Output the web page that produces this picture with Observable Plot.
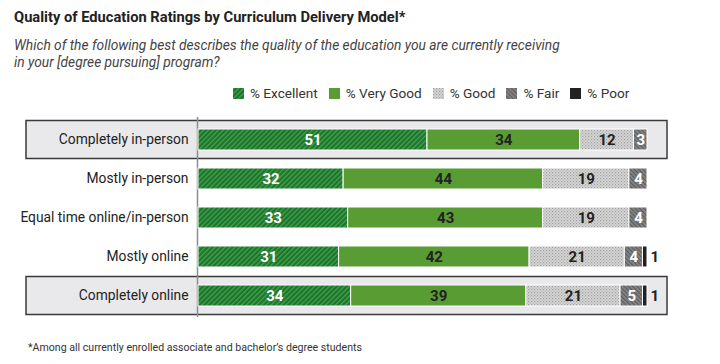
<!DOCTYPE html>
<html><head><meta charset="utf-8">
<script src="https://cdn.jsdelivr.net/npm/d3@7"></script>
<script src="https://cdn.jsdelivr.net/npm/@observablehq/plot@0.6"></script>
<style>
body{margin:0;width:720px;height:364px;position:relative;background:#fff;font-family:Roboto,"Liberation Sans",sans-serif;color:#222;overflow:hidden}
#title{position:absolute;left:14px;top:8px;font-size:14.7px;line-height:18px;font-weight:700;color:#222;white-space:nowrap}
#subtitle{position:absolute;left:14px;top:37px;font-size:13.75px;line-height:17px;font-style:italic;color:#444;white-space:nowrap}
#legend{position:absolute;left:233px;top:85px;display:flex;gap:11px;font-size:13.6px;line-height:16px;color:#333;white-space:nowrap}
#legend .item{display:flex;align-items:center;gap:6px}
#chart{position:absolute;left:0;top:100px}
#caption{position:absolute;left:28px;top:341px;font-size:10.6px;line-height:14px;color:#333;white-space:nowrap}
</style></head><body>
<svg width="0" height="0" style="position:absolute">
<defs>
<pattern id="pExc" width="3.5" height="3.5" patternUnits="userSpaceOnUse" patternTransform="rotate(45)">
<rect width="3.5" height="3.5" fill="#1b7530"/><rect width="1.3" height="3.5" fill="#46a046"/>
</pattern>
<pattern id="pVg" width="4" height="4" patternUnits="userSpaceOnUse"><rect width="4" height="4" fill="#589c33"/></pattern>
<pattern id="pGood" width="3" height="3" patternUnits="userSpaceOnUse">
<rect width="3" height="3" fill="#d6d6d6"/><rect x="0" y="0" width="1.2" height="1.2" fill="#a0a0a0"/><rect x="1.5" y="1.5" width="1.2" height="1.2" fill="#b0b0b0"/>
</pattern>
<pattern id="pFair" width="3" height="3" patternUnits="userSpaceOnUse" patternTransform="rotate(-45)">
<rect width="3" height="3" fill="#858585"/><rect width="1.2" height="3" fill="#5c5c5c"/>
</pattern>
<pattern id="pPoor" width="4" height="4" patternUnits="userSpaceOnUse"><rect width="4" height="4" fill="#222222"/></pattern>
</defs>
</svg>
<div id="title">Quality of Education Ratings by Curriculum Delivery Model*</div>
<div id="subtitle">Which of the following best describes the quality of the education you are currently receiving<br>in your [degree pursuing] program?</div>
<div id="legend"></div>
<div id="chart"></div>
<div id="caption">*Among all currently enrolled associate and bachelor’s degree students</div>
<script>
const models = ["Completely in-person","Mostly in-person","Equal time online/in-person","Mostly online","Completely online"];
const ratings = ["% Excellent","% Very Good","% Good","% Fair","% Poor"];
const excellent = [51,32,33,31,34];
const veryGood = [34,44,43,42,39];
const good = [12,19,19,21,21];
const fair = [3,4,4,4,5];
const poor = [0,0,0,1,1];
const highlighted = ["Completely in-person","Completely online"];

const patterns = ["url(#pExc)","url(#pVg)","url(#pGood)","url(#pFair)","url(#pPoor)"];
const lightText = ["% Excellent","% Fair"];
const darkText = ["% Very Good","% Good"];

const series = [excellent, veryGood, good, fair, poor];
const data = [];
models.forEach((m, i) => ratings.forEach((r, j) => data.push({model: m, rating: r, value: series[j][i]})));

// legend
const legend = document.getElementById("legend");
ratings.forEach((r, j) => {
  const it = document.createElement("div");
  it.className = "item";
  it.innerHTML = `<svg width="11" height="11"><rect width="11" height="11" fill="${patterns[j]}"/></svg><span>${r}</span>`;
  legend.appendChild(it);
});

const fontFamily = "Roboto, 'Liberation Sans', sans-serif";
const stackOpts = {x: "value", y: "model", z: "rating", offset: "normalize", order: null};

function boxes(index, scales, values, dimensions) {
  const y = scales.y;
  const bw = y.bandwidth ? y.bandwidth() : 21;
  const step = y.step ? y.step() : 39.5;
  const g = d3.create("svg:g");
  g.selectAll("rect").data(highlighted).join("rect")
    .attr("x", 26)
    .attr("y", d => y(d) + bw / 2 - step / 2 + 0.5)
    .attr("width", dimensions.width - 53 - 26)
    .attr("height", step - 1)
    .attr("fill", "#e9e9ec")
    .attr("stroke", "#3a3a3a")
    .attr("stroke-width", 1.5);
  return g.node();
}

const chart = Plot.plot({
  width: 720,
  height: 230,
  marginTop: 9,
  marginBottom: 5,
  marginLeft: 198,
  marginRight: 73,
  style: {fontFamily, background: "transparent"},
  x: {domain: [0, 1], axis: null},
  y: {domain: models, axis: null, padding: 0.47},
  color: {domain: ratings, range: patterns},
  marks: [
    boxes,
    Plot.ruleX([0], {stroke: "#8c8c8c", strokeWidth: 1.5, dx: -1, insetTop: 8, insetBottom: 8}),
    Plot.barX(data, Plot.stackX({...stackOpts, fill: "rating", stroke: "white", strokeWidth: 1})),
    Plot.text(data, Plot.stackX({...stackOpts, text: d => lightText.includes(d.rating) && d.value ? d.value : null, fill: "white", fontWeight: 700, fontSize: 15})),
    Plot.text(data, Plot.stackX({...stackOpts, text: d => darkText.includes(d.rating) && d.value ? d.value : null, fill: "#222", fontWeight: 700, fontSize: 15})),
    Plot.text(data, Plot.stackX2({...stackOpts, text: d => d.rating === "% Poor" && d.value ? d.value : null, fill: "#222", fontWeight: 700, fontSize: 15, textAnchor: "start", dx: 3})),
    Plot.text(models, {y: d => d, text: d => d, frameAnchor: "left", textAnchor: "end", dx: -10, fill: "#222", fontSize: 13.8})
  ]
});
document.getElementById("chart").appendChild(chart);
</script>
</body></html>
